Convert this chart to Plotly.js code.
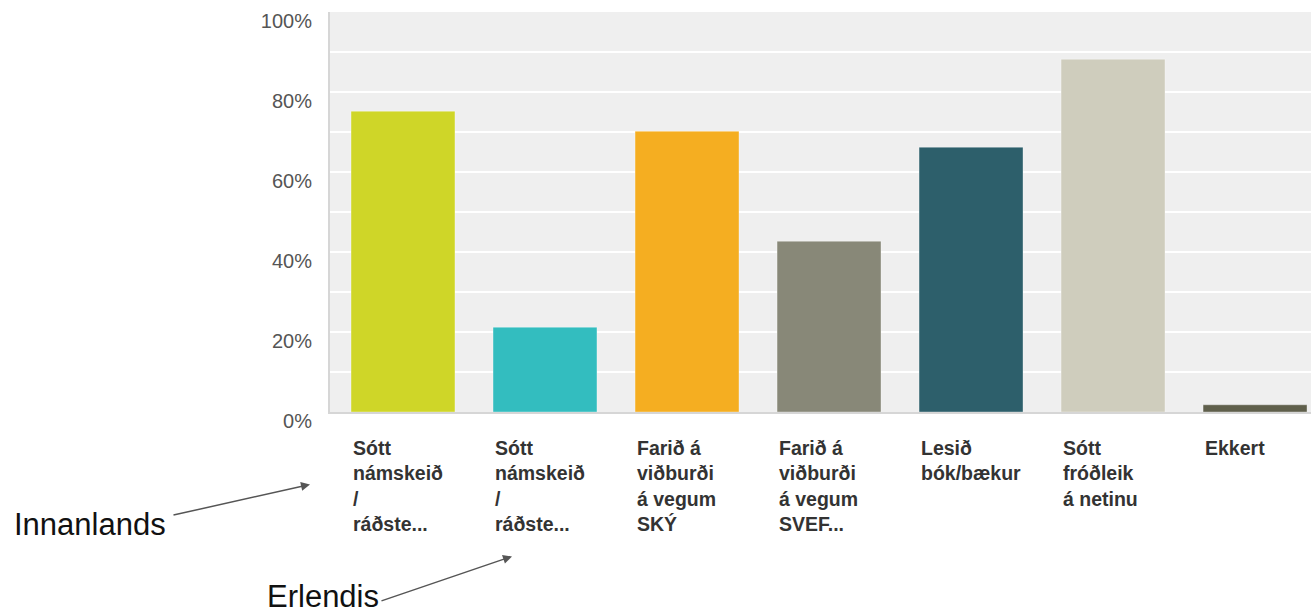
<!DOCTYPE html>
<html>
<head>
<meta charset="utf-8">
<script src="https://cdn.plot.ly/plotly-3.0.1.min.js"></script>
<style>html,body{margin:0;padding:0;background:#fff;}#chart{width:1311px;height:616px;}</style>
</head>
<body>
<div id="chart"></div>
<script>
const categories = ["Sótt námskeið / ráðste... (innanlands)", "Sótt námskeið / ráðste... (erlendis)", "Farið á viðburði á vegum SKÝ", "Farið á viðburði á vegum SVEF...", "Lesið bók/bækur", "Sótt fróðleik á netinu", "Ekkert"];
const tickLabels = ["Sótt<br>námskeið<br>/<br>ráðste...", "Sótt<br>námskeið<br>/<br>ráðste...", "Farið á<br>viðburði<br>á vegum<br>SKÝ", "Farið á<br>viðburði<br>á vegum<br>SVEF...", "Lesið<br>bók/bækur", "Sótt<br>fróðleik<br>á netinu", "Ekkert"];
const values = [75.2, 21.2, 70.2, 42.7, 66.2, 88.2, 1.8];
const colors = ["#cfd628", "#33bdbf", "#f5ae21", "#888878", "#2d5f6b", "#cfcdbd", "#5f5f4b"];
const yTicks = [0, 20, 40, 60, 80, 100];
const calloutTexts = ["Innanlands", "Erlendis"];

const xIdx = categories.map((c, i) => i);

const trace = {
  type: 'bar',
  x: xIdx,
  y: values,
  marker: { color: colors, line: { color: 'rgba(255,255,255,0.35)', width: 1 } },
  width: 0.732,
  hoverinfo: 'skip'
};

const annotations = tickLabels.map((t, i) => ({
  x: i, xref: 'x', y: -0.058, yref: 'paper',
  xanchor: 'left', yanchor: 'top', align: 'left', xshift: -52,
  text: '<b>' + t + '</b>', showarrow: false,
  font: { family: 'Liberation Sans, Arial, sans-serif', size: 19.5, color: '#333' }
}));

const calloutFont = { family: 'Liberation Sans, Arial, sans-serif', size: 31, color: '#111' };
annotations.push(
  { x: -0.2446, y: -0.331, xref: 'paper', yref: 'paper', xanchor: 'center', yanchor: 'bottom',
    text: calloutTexts[0], showarrow: false, font: calloutFont },
  { x: -0.0071, y: -0.509, xref: 'paper', yref: 'paper', xanchor: 'center', yanchor: 'bottom',
    text: calloutTexts[1], showarrow: false, font: calloutFont },
  { x: -0.0204, y: -0.181, xref: 'paper', yref: 'paper', text: '', showarrow: true,
    ax: -138, ay: 31, axref: 'pixel', ayref: 'pixel', arrowhead: 2, arrowsize: 1.2, arrowwidth: 1.5, arrowcolor: '#555' },
  { x: 0.1855, y: -0.361, xref: 'paper', yref: 'paper', text: '', showarrow: true,
    ax: -132, ay: 45, axref: 'pixel', ayref: 'pixel', arrowhead: 2, arrowsize: 1.2, arrowwidth: 1.5, arrowcolor: '#555' }
);

const layout = {
  width: 1311, height: 616,
  margin: { l: 330, r: 0, t: 11.7, b: 204.3 },
  paper_bgcolor: '#ffffff',
  plot_bgcolor: '#efefef',
  showlegend: false,
  xaxis: {
    range: [-0.514, 6.394], showticklabels: false, showgrid: false, zeroline: false,
    showline: true, linecolor: '#d6d6d6', linewidth: 2, fixedrange: true
  },
  yaxis: {
    range: [0, 100], tickvals: yTicks, ticktext: yTicks.map(v => v + '%'),
    showgrid: true, gridcolor: '#ffffff', gridwidth: 2,
    minor: { dtick: 10, showgrid: true, gridcolor: '#ffffff', gridwidth: 2 },
    zeroline: false, showline: true, linecolor: '#d6d6d6', linewidth: 2,
    ticks: '', ticklabelstandoff: 12, ticklabelshift: 9,
    tickfont: { family: 'Liberation Sans, Arial, sans-serif', size: 20, color: '#555' },
    fixedrange: true
  },
  annotations: annotations
};

Plotly.newPlot('chart', [trace], layout, { displayModeBar: false, staticPlot: true });
</script>
</body>
</html>
